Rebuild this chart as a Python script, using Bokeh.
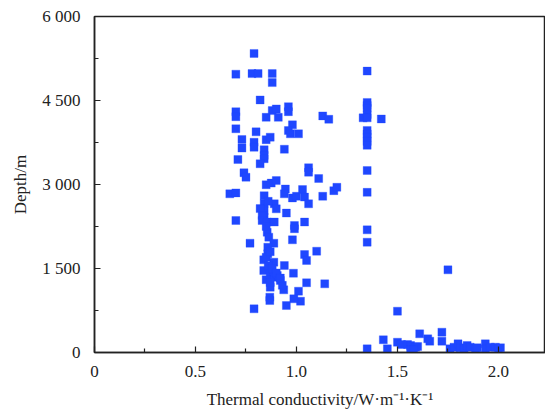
from bokeh.plotting import figure
from bokeh.models import FixedTicker, Range1d, CustomJSTickFormatter
from bokeh.embed import file_html
from bokeh.resources import INLINE

# Thermal conductivity (W/m/K) and depth (m)
left_x = [0.79, 0.70, 0.78, 0.81, 0.88, 0.88, 0.82, 0.70, 0.70, 0.85, 0.88, 0.90, 0.91, 0.96, 0.96,
          1.13, 1.16, 0.70, 0.80, 0.98, 0.96, 0.97, 1.01, 0.73, 0.73, 0.79, 0.79, 0.85, 0.87, 0.94,
          0.84, 0.84, 0.84, 0.71, 0.82, 0.74, 0.75, 1.06, 1.06, 1.11, 0.85, 0.875, 0.90, 0.67, 0.70,
          0.945, 0.94, 0.98, 1.00, 1.03, 1.04, 1.06, 1.13, 1.185, 1.20, 0.84, 0.84, 0.84, 0.84, 0.89,
          0.90, 0.82, 0.83, 0.95, 0.70, 0.83, 0.855, 0.89, 0.99, 0.99, 1.04, 0.855, 0.863, 0.888, 0.858,
          0.858, 0.838, 0.888, 0.838, 0.87, 0.888, 0.92, 0.905, 0.87, 0.868, 0.868, 0.77, 0.98, 0.94,
          0.985, 0.937, 1.04, 1.05, 1.10, 1.05, 1.14, 1.01, 1.02, 0.987, 0.95, 0.79,
          0.86, 0.88, 0.90, 0.85, 0.87, 0.93, 0.85, 0.87, 0.85, 0.86, 0.92]
left_y = [5340, 4970, 4980, 4980, 4980, 4820, 4510, 4300, 4210, 4200, 4320, 4350, 4200, 4390, 4300,
          4225, 4165, 3995, 3940, 4065, 3964, 3905, 3905, 3804, 3650, 3755, 3665, 3800, 3845, 3630,
          3620, 3520, 3460, 3446, 3370, 3210, 3130, 3300, 3220, 3107, 2995, 3025, 3070, 2833, 2850,
          2920, 2833, 2760, 2790, 2910, 2775, 2655, 2790, 2890, 2950, 2800, 2660, 2535, 2410, 2655,
          2565, 2570, 2446, 2490, 2357, 2357, 2330, 2330, 2268, 2210, 2330, 2148, 2060, 1952, 1880,
          1762, 1655, 1613, 1464, 1434, 1345, 1286, 1375, 1166, 988, 928, 1952, 2012, 1553,
          1416, 1119, 1750, 1643, 1809, 1245, 1226, 1095, 916, 958, 839, 780,
          1550, 1500, 1420, 1300, 1250, 1200, 1700, 1800, 2250, 2700, 1330]

mid_x = [1.35, 1.35, 1.35, 1.35, 1.35, 1.33, 1.35, 1.35, 1.35, 1.35, 1.35, 1.35, 1.35, 1.35, 1.35, 1.42, 1.35]
mid_y = [5025, 4465, 4410, 4360, 4250, 4190, 4190, 3965, 3900, 3840, 3770, 3700, 3250, 2860, 2190, 4170, 1970]

right_x = [1.75, 1.50, 1.35, 1.43, 1.45, 1.50, 1.52, 1.55, 1.565, 1.59, 1.60, 1.565, 1.58,
           1.61, 1.65, 1.66, 1.72, 1.72, 1.76, 1.78, 1.80, 1.81, 1.83, 1.845, 1.86, 1.886,
           1.894, 1.935, 1.935, 1.96, 1.985, 2.00, 2.01]
right_y = [1476, 738, 65, 227, 65, 184, 143, 143, 125, 95, 107, 48, 48,
           333, 244, 202, 363, 202, 65, 95, 155, 84, 65, 125, 95, 65,
           84, 155, 65, 95, 95, 65, 84]

xs = left_x + mid_x + right_x
ys = left_y + mid_y + right_y

x_ticks = [0, 0.5, 1.0, 1.5, 2.0]
x_tick_labels = ["0", "0.5", "1.0", "1.5", "2.0"]
x_minor = [0.25, 0.75, 1.25, 1.75, 2.25]
y_ticks = [0, 1500, 3000, 4500, 6000]
y_tick_labels = ["0", "1 500", "3 000", "4 500", "6 000"]
y_minor = [750, 2250, 3750, 5250]

FONT = "Liberation Serif"

p = figure(width=545, height=412, output_backend="svg", toolbar_location=None,
           x_range=Range1d(0, 2.233), y_range=Range1d(0, 6000),
           min_border_left=94, min_border_top=16, min_border_bottom=60, min_border_right=0)

p.scatter(xs, ys, marker="square", size=8, fill_color="#1f47ff", line_color="#1f47ff",
          line_width=0.5, line_alpha=0.6)

p.xgrid.visible = False
p.ygrid.visible = False
p.outline_line_color = "#222222"
p.outline_line_width = 1.5
p.background_fill_color = "white"
p.border_fill_color = "white"

js = """
for (let i = 0; i < tvals.length; i++) {
    if (Math.abs(tvals[i] - tick) < 1e-6) { return tlabels[i]; }
}
return '';
"""
p.xaxis.ticker = FixedTicker(ticks=x_ticks, minor_ticks=x_minor)
p.xaxis.formatter = CustomJSTickFormatter(args=dict(tvals=x_ticks, tlabels=x_tick_labels), code=js)
p.yaxis.ticker = FixedTicker(ticks=y_ticks, minor_ticks=y_minor)
p.yaxis.formatter = CustomJSTickFormatter(args=dict(tvals=y_ticks, tlabels=y_tick_labels), code=js)

for ax in (p.xaxis, p.yaxis):
    ax.axis_line_color = "#222222"
    ax.axis_line_width = 1.5
    ax.major_tick_line_color = "#222222"
    ax.minor_tick_line_color = "#222222"
    ax.major_tick_line_width = 1.2
    ax.minor_tick_line_width = 1.2
    ax.major_tick_in = 6
    ax.major_tick_out = 0
    ax.minor_tick_in = 4
    ax.minor_tick_out = 0
    ax.major_label_text_font = FONT
    ax.major_label_text_font_size = "17px"
    ax.major_label_text_font_style = "normal"
    ax.major_label_text_color = "#222222"
    ax.axis_label_text_font = FONT
    ax.axis_label_text_font_size = "17px"
    ax.axis_label_text_font_style = "normal"
    ax.axis_label_text_color = "#222222"

p.xaxis.axis_label = "Thermal conductivity/W\u00b7m\u207b\u00b9\u00b7K\u207b\u00b9"
p.yaxis.axis_label = "Depth/m"
p.xaxis.major_label_standoff = 13
p.yaxis.major_label_standoff = 14
p.xaxis.axis_label_standoff = 10
p.yaxis.axis_label_standoff = 9

open("out.html", "w").write(file_html(p, INLINE))
